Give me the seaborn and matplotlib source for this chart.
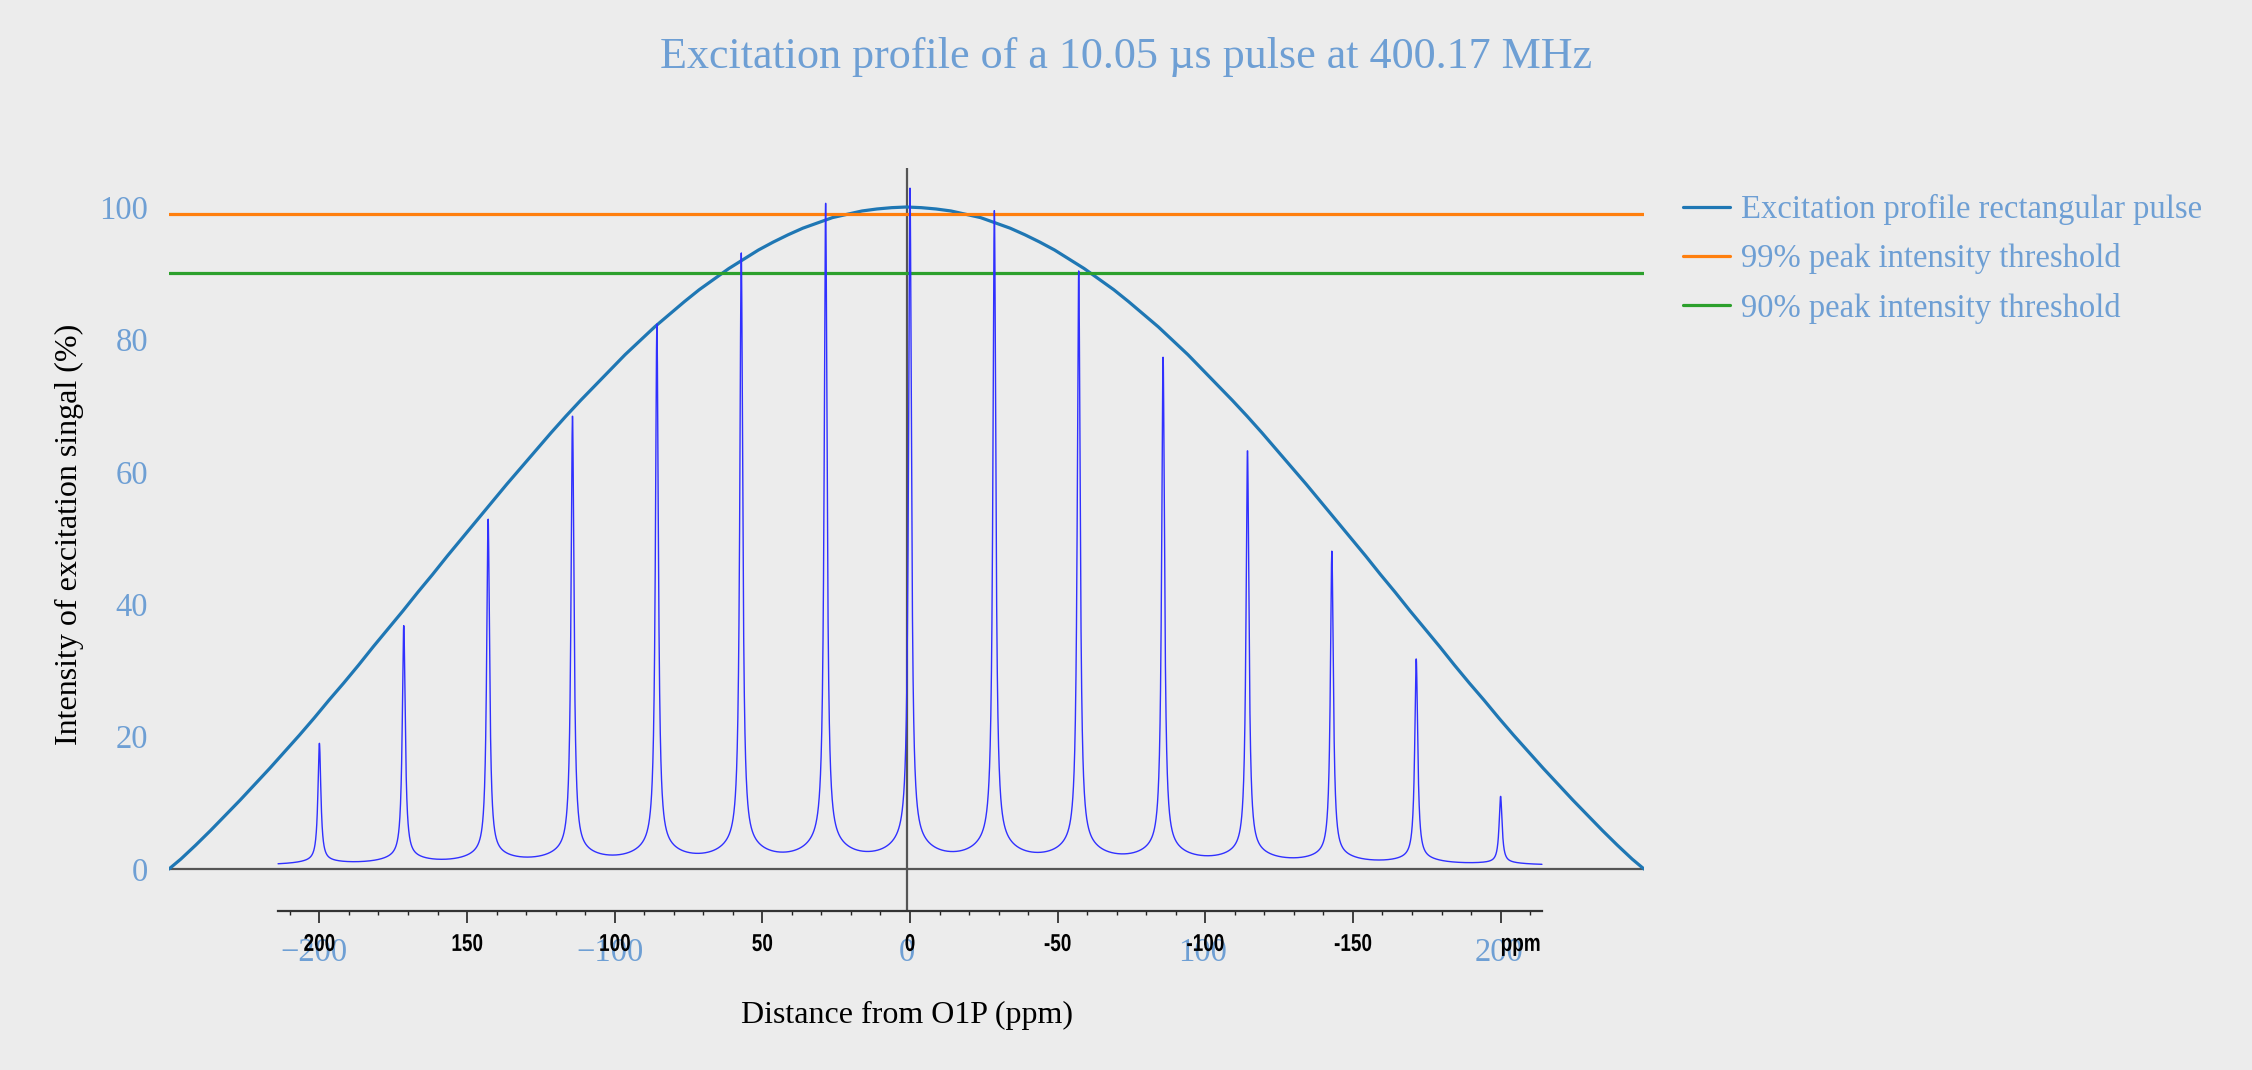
import numpy as np
import pandas as pd
import seaborn as sns
import matplotlib
matplotlib.use("Agg")
import matplotlib.pyplot as plt
from matplotlib.ticker import FixedLocator
from matplotlib.transforms import ScaledTranslation, Affine2D
from matplotlib.patheffects import AbstractPathEffect

# ---------------- data ----------------
profile_ppm = [-249, -245, -240, -235, -230, -225, -220, -215, -210, -205, -200,
               -195, -190, -185, -180, -175, -170, -165, -160, -155, -150,
               -145, -140, -135, -130, -125, -120, -115, -110, -105, -100,
               -95, -90, -85, -80, -75, -70, -65, -60, -55, -50,
               -45, -40, -35, -30, -25, -20, -15, -10, -5, 0,
               5, 10, 15, 20, 25, 30, 35, 40, 45, 50,
               55, 60, 65, 70, 75, 80, 85, 90, 95, 100,
               105, 110, 115, 120, 125, 130, 135, 140, 145, 150,
               155, 160, 165, 170, 175, 180, 185, 190, 195, 200,
               205, 210, 215, 220, 225, 230, 235, 240, 245, 249]
profile_pct = [0.0, 1.5, 3.6, 5.8, 8.1, 10.4, 12.8, 15.2, 17.7, 20.2, 22.8,
               25.5, 28.1, 30.8, 33.6, 36.3, 39.0, 41.8, 44.5, 47.3, 50.0,
               52.7, 55.4, 58.1, 60.7, 63.3, 65.9, 68.4, 70.8, 73.1, 75.4,
               77.7, 79.8, 81.9, 83.8, 85.7, 87.5, 89.1, 90.7, 92.1, 93.5,
               94.7, 95.8, 96.8, 97.6, 98.4, 98.9, 99.4, 99.7, 99.9, 100.0,
               99.9, 99.7, 99.4, 98.9, 98.4, 97.6, 96.8, 95.8, 94.7, 93.5,
               92.1, 90.7, 89.1, 87.5, 85.7, 83.8, 81.9, 79.8, 77.7, 75.4,
               73.1, 70.8, 68.4, 65.9, 63.3, 60.7, 58.1, 55.4, 52.7, 50.0,
               47.3, 44.5, 41.8, 39.0, 36.3, 33.6, 30.8, 28.1, 25.5, 22.8,
               20.2, 17.7, 15.2, 12.8, 10.4, 8.1, 5.8, 3.6, 1.5, 0.0]
threshold_99 = [99, 99]
threshold_90 = [90, 90]

# spectrum (inset, ppm axis reversed): peak positions and heights
peak_ppm = [200.0, 171.43, 142.86, 114.29, 85.71, 57.14, 28.57, 0.0,
            -28.57, -57.14, -85.71, -114.29, -142.86, -171.43, -200.0]
peak_height = [18.3, 36.0, 52.0, 67.5, 81.3, 92.0, 99.5, 101.8,
               98.4, 89.3, 76.3, 62.3, 47.2, 31.0, 10.3]
narrow_hwhm = 0.6
broad_hwhm = 8.0
broad_frac = 0.03
spec_baseline = 0.5
spec_limits = [214, -214]
spec_major_ticks = [200, 150, 100, 50, 0, -50, -100, -150, -200]
spec_tick_labels = ["200", "150", "100", "50", "0", "-50", "-100", "-150", "ppm"]

x_ticks = [-200, -100, 0, 100, 200]
x_tick_labels = ["\u2212200", "\u2212100", "0", "100", "200"]
y_ticks = [0, 20, 40, 60, 80, 100]

# ---------------- style ----------------
BG = "#ececec"
TXT = "#6e9fd4"
sns.set_theme(style="white")
plt.rcParams["font.family"] = ["Liberation Serif", "DejaVu Serif"]


class XScale(AbstractPathEffect):
    """Condense text horizontally about its own centre."""
    def __init__(self, sx):
        super().__init__()
        self.sx = sx

    def draw_path(self, renderer, gc, tpath, affine, rgbFace=None):
        ext = tpath.get_extents(affine)
        cx = 0.5 * (ext.x0 + ext.x1)
        aff = affine + Affine2D().translate(-cx, 0).scale(self.sx, 1).translate(cx, 0)
        renderer.draw_path(gc, tpath, aff, rgbFace)


W, H = 2252, 1070
fig = plt.figure(figsize=(W / 100, H / 100), dpi=100, facecolor=BG)
L, R, T, B = 169, 1644, 168, 910
ax = fig.add_axes([L / W, 1 - B / H, (R - L) / W, (B - T) / H])
ax.set_facecolor(BG)

# zero lines
ax.axhline(0, color="#555555", lw=1.6, zorder=1)
ax.axvline(0, color="#555555", lw=1.6, zorder=1)

prof = pd.DataFrame({"ppm": profile_ppm, "pct": profile_pct})
sns.lineplot(data=prof, x="ppm", y="pct", ax=ax, color="#1f77b4", lw=2.3,
             label="Excitation profile rectangular pulse", sort=False, zorder=3)
thr_x = [profile_ppm[0], profile_ppm[-1]]
sns.lineplot(x=thr_x, y=threshold_99, ax=ax, color="#ff7f0e", lw=2.3,
             label="99% peak intensity threshold", zorder=3)
sns.lineplot(x=thr_x, y=threshold_90, ax=ax, color="#2ca02c", lw=2.3,
             label="90% peak intensity threshold", zorder=3)

ax.set_xlim(-249, 249)
ax.set_ylim((869 - B) / 6.62, (869 - T) / 6.62)
for s in ax.spines.values():
    s.set_visible(False)
ax.xaxis.set_major_locator(FixedLocator(x_ticks))
ax.set_xticklabels(x_tick_labels)
ax.yaxis.set_major_locator(FixedLocator(y_ticks))
ax.tick_params(axis="both", length=0, labelsize=23.5, labelcolor=TXT)
ax.tick_params(axis="x", pad=20)
ax.tick_params(axis="y", pad=15)

ax.set_xlabel("Distance from O1P (ppm)", fontsize=23, color="black")
ax.xaxis.label.set_va("center")
ax.xaxis.set_label_coords(0.5, (B - 1015) / (B - T))
ax.set_ylabel("Intensity of excitation singal (%)", fontsize=23, color="black")
ax.yaxis.label.set_va("center")
ax.yaxis.set_label_coords((69 - L) / (R - L), (B - 534) / (B - T))

# spectrum inset on twin x axis (reversed ppm scale)
tw = ax.twiny()
px_per_ppm = 2.953
zero_px = 910
tw.set_xlim((zero_px - L) / px_per_ppm, (zero_px - R) / px_per_ppm)
grid = np.linspace(spec_limits[0], spec_limits[1], 8000)
spec = np.full_like(grid, spec_baseline)
for p, h in zip(peak_ppm, peak_height):
    d2 = (grid - p) ** 2
    spec += h * ((1 - broad_frac) * narrow_hwhm ** 2 / (narrow_hwhm ** 2 + d2)
                 + broad_frac * broad_hwhm ** 2 / (broad_hwhm ** 2 + d2))
sns.lineplot(x=grid, y=spec, ax=tw, color="#3030ff", lw=1.0, sort=False,
             estimator=None, zorder=4)
for k in ["top", "left", "right"]:
    tw.spines[k].set_visible(False)
tw.spines["bottom"].set_visible(True)
tw.spines["bottom"].set_color("#333333")
tw.spines["bottom"].set_linewidth(1.6)
tw.spines["bottom"].set_position(("outward", 1))
tw.spines["bottom"].set_bounds(spec_limits[0], spec_limits[1])
tw.xaxis.set_ticks_position("bottom")
tw.xaxis.set_label_position("bottom")
tw.xaxis.set_major_locator(FixedLocator(spec_major_ticks))
tw.xaxis.set_minor_locator(FixedLocator(list(range(210, -211, -10))))
tw.set_xticklabels(spec_tick_labels)
tw.tick_params(axis="x", which="major", length=8.5, width=1.2, color="#222222",
               direction="out", pad=7, labelsize=17.5, labelcolor="black")
tw.tick_params(axis="x", which="minor", length=3, width=1.0, color="#222222",
               direction="out")
for lab in tw.get_xticklabels():
    lab.set_fontfamily(["Liberation Sans", "DejaVu Sans"])
    lab.set_fontweight("bold")
    lab.set_path_effects([XScale(0.78)])
last = tw.get_xticklabels()[-1]
last.set_transform(last.get_transform() + ScaledTranslation(20 / 100, 0, fig.dpi_scale_trans))
tw.tick_params(axis="y", left=False, labelleft=False, right=False, labelright=False)
tw.set_xlabel("")
tw.set_ylabel("")
if tw.get_legend():
    tw.get_legend().remove()

# legend
handles, labels = ax.get_legend_handles_labels()
leg = ax.legend(handles, labels, loc="upper left",
                bbox_to_anchor=(1683 / W, 1 - 194 / H), bbox_transform=fig.transFigure,
                frameon=False, fontsize=23.5, handlelength=1.44, handletextpad=0.34,
                labelspacing=0.56, borderpad=0, borderaxespad=0)
for t in leg.get_texts():
    t.set_color(TXT)

fig.text(0.5, 1 - 57 / H, "Excitation profile of a 10.05 \u00b5s pulse at 400.17 MHz",
         ha="center", va="center", fontsize=31.8, color=TXT)

fig.savefig("out.png", dpi=100, facecolor=BG)
